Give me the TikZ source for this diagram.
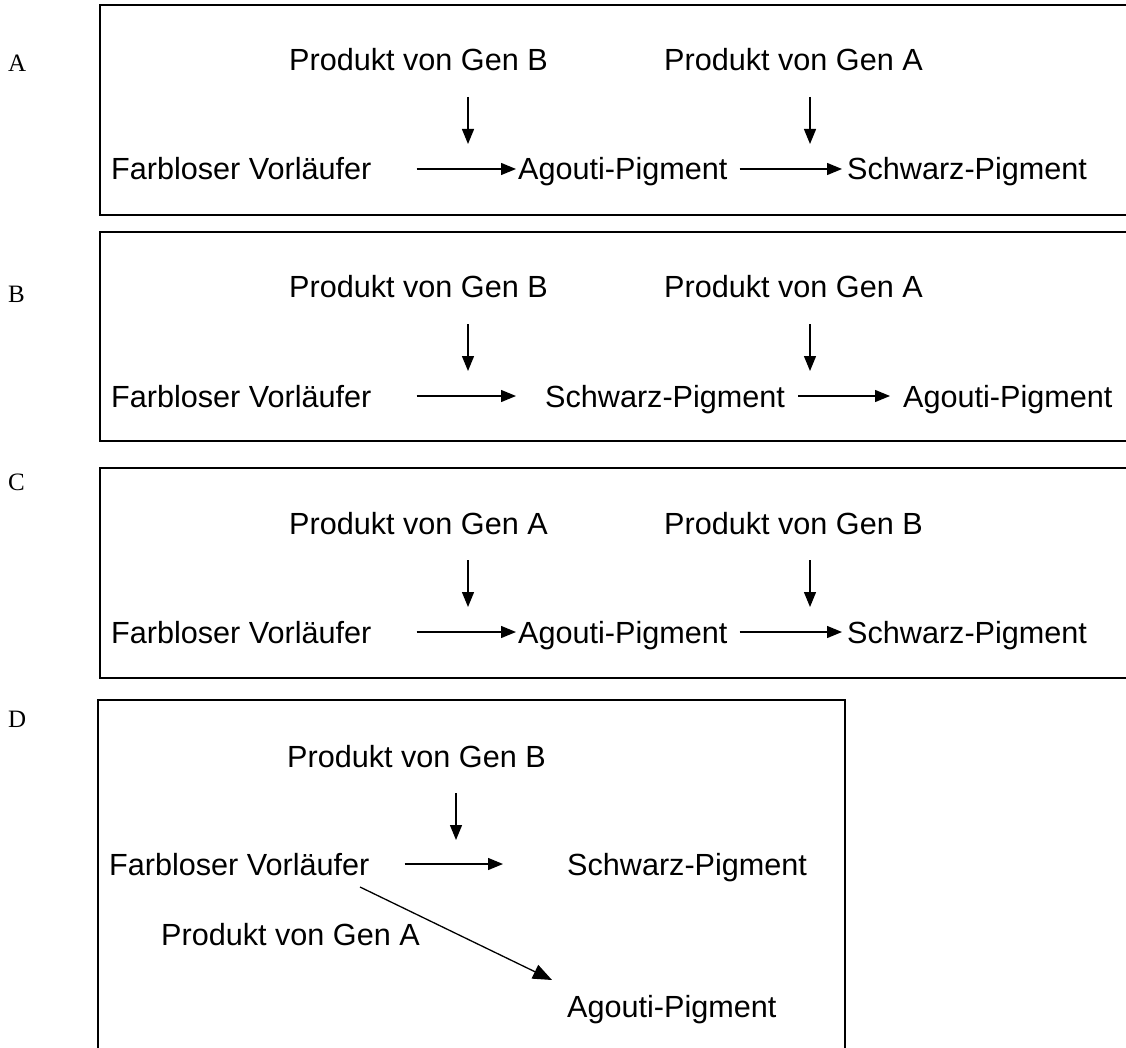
\documentclass[tikz,border=0pt]{standalone}
\usepackage{fontspec}
\setmainfont{Liberation Serif}
\setsansfont{Liberation Sans}
\usepackage{tikz}
\usetikzlibrary{arrows.meta, positioning, calc}
\tikzset{
  panel/.style={line width=1.8pt},
  lbl/.style={font=\rmfamily\fontsize{25}{30}\selectfont, inner sep=0pt, anchor=base west},
  txt/.style={font=\sffamily\fontsize{30.6}{36}\selectfont, inner sep=0pt,
    anchor=base west, text height=22pt, text depth=0pt},
  flow/.style={-{Triangle[length=15pt, width=12pt]}, line width=1.3pt},
  flowd/.style={-{Triangle[length=19pt, width=15pt]}, line width=1.3pt},
}
\begin{document}
\begin{tikzpicture}[x=1pt, y=-1pt]
    \useasboundingbox (0,0) rectangle (1126,1048);
    % panel labels
    \node[lbl] (labA) at (8,72) {A};
    \node[lbl] (labB) at (8,302) {B};
    \node[lbl] (labC) at (8,490) {C};
    \node[lbl] (labD) at (8,727) {D};

    % A
    \draw[panel] (1126,5) -| (100,215) -- (1126,215);
    \node[txt] (pBa) at (289,71) {Produkt von Gen B};
    \node[txt] (pAa) at (664,71) {Produkt von Gen A};
    \node[txt] (fa) at (111,180) {Farbloser Vorläufer};
    \node[txt] (aga) at (518,180) {Agouti-Pigment};
    \node[txt] (swa) at (847,180) {Schwarz-Pigment};
    \coordinate (v1a) at (468,97); \coordinate (v1a') at (468,144);
    \coordinate (v2a) at (810,97); \coordinate (v2a') at (810,144);
    \draw[flow] (v1a) -- (v1a');
    \draw[flow] (v2a) -- (v2a');
    \draw[flow, shorten <=45pt, shorten >=2pt] (fa.east) -- (aga.west);
    \draw[flow, shorten <=12pt, shorten >=5pt] (aga.east) -- (swa.west);

    % B
    \begin{scope}[shift={(0,227)}]
      \draw[panel] (1126,5) -| (100,214) -- (1126,214);
      \node[txt] (pBb) at (289,71) {Produkt von Gen B};
      \node[txt] (pAb) at (664,71) {Produkt von Gen A};
      \node[txt] (fb) at (111,180) {Farbloser Vorläufer};
      \node[txt] (swb) at (545,180) {Schwarz-Pigment};
      \node[txt] (agb) at (903,180) {Agouti-Pigment};
      \coordinate (v1b) at (468,97); \coordinate (v1b') at (468,144);
      \coordinate (v2b) at (810,97); \coordinate (v2b') at (810,144);
      \draw[flow] (v1b) -- (v1b');
      \draw[flow] (v2b) -- (v2b');
      \draw[flow, shorten <=45pt, shorten >=29pt] (fb.east) -- (swb.west);
      \draw[flow, shorten <=13pt, shorten >=13pt] (swb.east) -- (agb.west);
    \end{scope}

    % C
    \begin{scope}[shift={(0,463)}]
      \draw[panel] (1126,5) -| (100,215) -- (1126,215);
      \node[txt] (pAc) at (289,71) {Produkt von Gen A};
      \node[txt] (pBc) at (664,71) {Produkt von Gen B};
      \node[txt] (fc) at (111,180) {Farbloser Vorläufer};
      \node[txt] (agc) at (518,180) {Agouti-Pigment};
      \node[txt] (swc) at (847,180) {Schwarz-Pigment};
      \coordinate (v1c) at (468,97); \coordinate (v1c') at (468,144);
      \coordinate (v2c) at (810,97); \coordinate (v2c') at (810,144);
      \draw[flow] (v1c) -- (v1c');
      \draw[flow] (v2c) -- (v2c');
      \draw[flow, shorten <=45pt, shorten >=2pt] (fc.east) -- (agc.west);
      \draw[flow, shorten <=12pt, shorten >=5pt] (agc.east) -- (swc.west);
    \end{scope}

    % D
    \draw[panel] (98,1048) |- (845,700) -- (845,1048);
    \node[txt] (pBd) at (287,767) {Produkt von Gen B};
    \node[txt] (fd) at (109,875) {Farbloser Vorläufer};
    \node[txt] (swd) at (567,875) {Schwarz-Pigment};
    \node[txt] (pAd) at (161,945) {Produkt von Gen A};
    \node[txt] (agd) at (567,1017) {Agouti-Pigment};
    \coordinate (v1d) at (456,793); \coordinate (v1d') at (456,840);
    \coordinate (dia) at (360,887); \coordinate (dia') at (552,980);
    \draw[flow] (v1d) -- (v1d');
    \draw[flow, shorten <=35pt, shorten >=64pt] (fd.east) -- (swd.west);
    \draw[flowd] (dia) -- (dia');
  \end{tikzpicture}
\end{document}
